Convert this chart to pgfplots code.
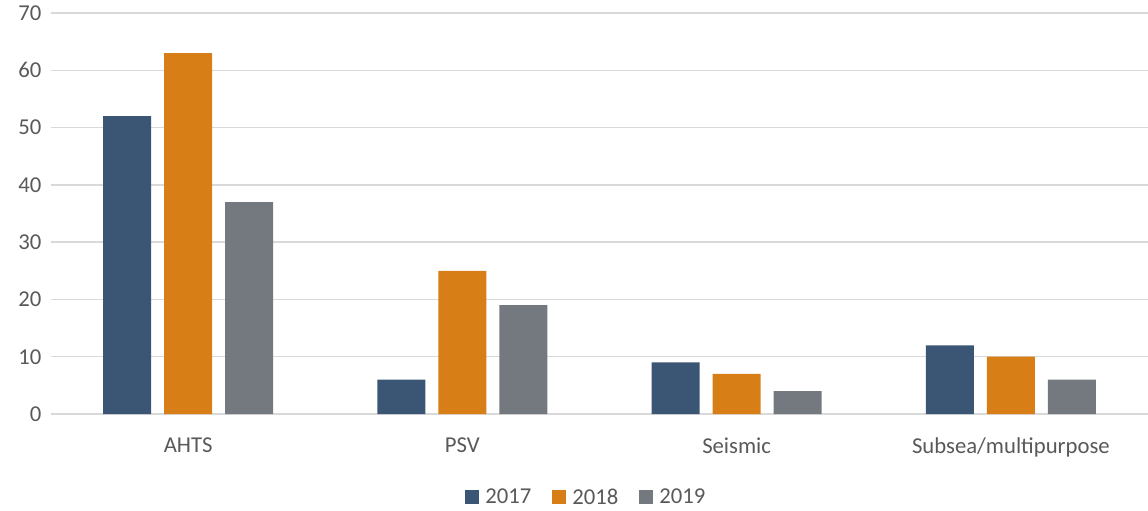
\documentclass[border=0pt]{standalone}
\usepackage{pgfplots}
\pgfplotsset{compat=1.18}
\usetikzlibrary{calc}
\usepackage{fontspec}
\setmainfont{Carlito}
\definecolor{c17}{HTML}{3B5675}
\definecolor{c18}{HTML}{D77E17}
\definecolor{c19}{HTML}{73797F}
\definecolor{gridc}{HTML}{D9D9D9}
\definecolor{txt}{HTML}{595959}
\begin{document}
\begin{tikzpicture}
\begin{axis}[
  name=ax,
  scale only axis, width=1097pt, height=401pt,
  ybar=13pt, bar width=48pt,
  xmin=-0.5, xmax=3.5, ymin=0, ymax=70,
  xtick={0,1,2,3},
  xticklabels={AHTS,PSV,Seismic,Subsea/multipurpose},
  ytick={0,10,...,70},
  ymajorgrids, grid style={gridc, line width=1.3pt},
  axis x line*=bottom, axis y line*=left,
  x axis line style={gridc, line width=1.3pt},
  y axis line style={draw=none},
  major tick length=0pt,
  tick label style={font=\fontsize{22.7}{26}\selectfont, text=txt},
  /pgf/number format/assume math mode=true,
  xticklabel style={yshift=-20pt},
  yticklabel style={xshift=-6pt},
  legend style={at={(0.488,-0.207)}, anchor=center, draw=none, fill=none,
    legend columns=3, font=\fontsize{22.7}{26}\selectfont, text=txt,
    /tikz/every odd column/.append style={column sep=4pt},
    /tikz/every even column/.append style={column sep=19pt}},
  legend image code/.code={\fill[#1] (0pt,-7pt) rectangle (14pt,7pt);},
]
\addplot[fill=c17, draw=none] coordinates {(0,52) (1,6) (2,9) (3,12)};
\addplot[fill=c18, draw=none] coordinates {(0,63) (1,25) (2,7) (3,10)};
\addplot[fill=c19, draw=none] coordinates {(0,37) (1,19) (2,4) (3,6)};
\legend{2017,2018,2019}
\end{axis}
\pgfresetboundingbox
\path[use as bounding box] ($(ax.south west)+(-51pt,-96pt)$) rectangle ($(ax.north east)+(0pt,13pt)$);
\end{tikzpicture}
\end{document}
